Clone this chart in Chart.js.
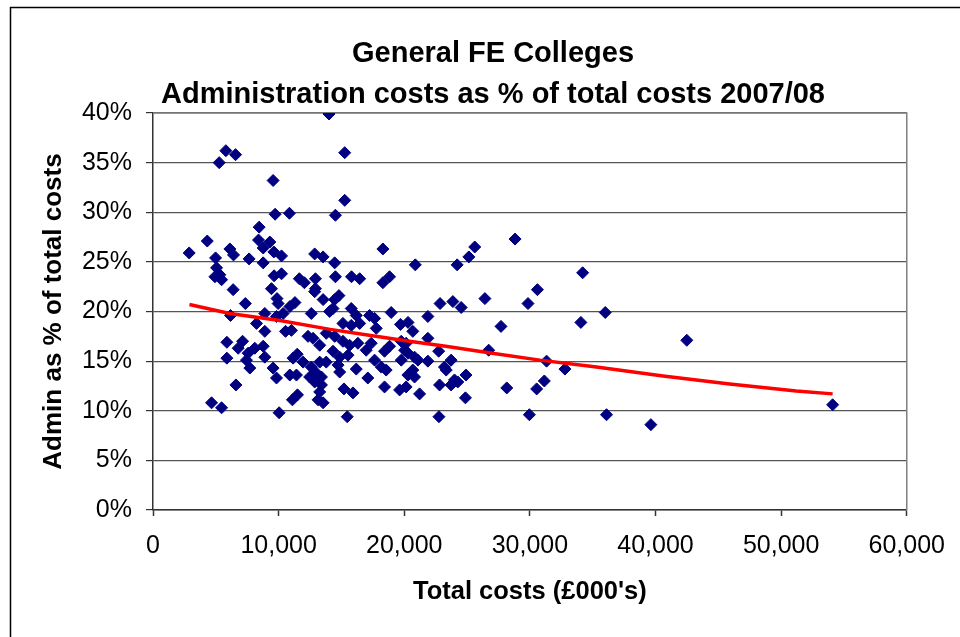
<!DOCTYPE html>
<html>
<head>
<meta charset="utf-8">
<title>General FE Colleges – Administration costs</title>
<script src="https://cdn.jsdelivr.net/npm/chart.js@4/dist/chart.umd.min.js"></script>
<style>
  html, body { margin: 0; padding: 0; background: #fff; }
  #wrap { width: 960px; height: 637px; }
</style>
</head>
<body>
<div id="wrap"><canvas id="chart" width="960" height="637"></canvas></div>
<script>
// Total costs per college (£000's)
const totalCosts = [
  14010, 15260, 5800, 6570, 5270, 9560, 15260, 9720, 10860, 14520,
  8450, 4320, 2880, 4980, 6120, 6410, 7650, 8400, 9300, 8770,
  9620, 10230, 8770, 12870, 13540, 14460, 5060, 5320, 4930, 5460,
  6380, 7350, 9640, 10230, 9430, 9870, 9960, 11650, 12050, 12930,
  12930, 13540, 14520, 14800, 14460, 15800, 16450, 10900, 11300, 18300,
  20880, 24210, 25140, 25610, 28820, 18300, 18830, 26420, 30600, 29850,
  22850, 23870, 24530, 15780, 18960, 21880, 34200, 36000, 34060, 42490,
  31330, 32790, 31150, 30540, 29960, 36100, 39630, 54100, 6170, 8900,
  8240, 9830, 10360, 8900, 10550, 5880, 7130, 6780, 7570, 8100,
  8770, 5880, 7440, 7710, 8900, 9560, 9830, 11150, 10890, 11420,
  6600, 4660, 5460, 10040, 11100, 11500, 12870, 14330, 14060, 12600,
  16180, 17240, 17640, 19700, 20300, 15120, 15780, 16450, 17770, 11020,
  12340, 12740, 13790, 14460, 15120, 13270, 16310, 15650, 14330, 14860,
  15520, 17370, 16970, 18430, 18830, 19760, 11480, 11950, 12600, 13270,
  13790, 12470, 13010, 13410, 12870, 14730, 14860, 16180, 17100, 17640,
  18170, 18560, 19760, 20300, 18430, 19630, 20150, 15200, 15920, 13410,
  13270, 13540, 13140, 15460, 20680, 27700, 21880, 20150, 20030, 20820,
  22740, 26720, 21880, 21090, 20680, 20820, 20290, 23730, 23200, 23340,
  24910, 22810, 24000, 23730, 24260, 21220, 24870, 28160, 22760
];

// Administration costs as % of total costs, same order as totalCosts
const adminShare = [
  39.9, 36.0, 36.2, 35.8, 35.0, 33.2, 31.2, 29.8, 29.9, 29.7,
  28.5, 27.1, 25.9, 25.4, 26.3, 25.7, 25.3, 27.2, 27.0, 26.4,
  26.0, 25.6, 24.9, 25.8, 25.5, 24.9, 24.4, 23.7, 23.5, 23.2,
  22.2, 20.8, 23.6, 23.8, 22.3, 21.3, 20.8, 23.3, 22.9, 23.3,
  22.3, 21.2, 23.5, 21.6, 21.2, 23.5, 23.3, 20.5, 20.9, 26.3,
  24.7, 24.7, 25.5, 26.5, 27.3, 22.9, 23.5, 21.3, 22.2, 20.8,
  20.8, 21.0, 20.4, 20.3, 19.9, 19.5, 23.9, 19.9, 18.9, 17.1,
  15.0, 14.2, 13.0, 12.2, 9.6, 9.6, 8.6, 10.6, 19.6, 19.8,
  18.8, 19.5, 19.8, 18.0, 18.0, 16.9, 17.0, 16.3, 15.8, 16.3,
  16.5, 15.3, 15.1, 14.3, 15.4, 14.3, 13.3, 15.3, 13.6, 13.6,
  12.6, 10.8, 10.3, 9.8, 11.1, 11.6, 22.0, 20.3, 20.0, 19.8,
  19.6, 19.6, 19.3, 18.7, 18.9, 18.8, 18.6, 18.8, 18.3, 18.1,
  17.5, 17.3, 17.8, 17.5, 17.0, 16.6, 16.8, 16.6, 16.0, 15.4,
  15.6, 16.8, 16.1, 16.0, 16.5, 17.0, 15.7, 14.9, 14.4, 14.9,
  14.9, 13.4, 13.8, 13.4, 12.9, 14.6, 13.9, 14.2, 13.3, 15.1,
  14.4, 14.1, 15.1, 15.8, 12.4, 12.1, 12.4, 12.2, 11.8, 12.6,
  11.9, 10.8, 11.1, 9.4, 18.0, 18.5, 17.3, 16.8, 16.1, 15.4,
  16.0, 16.1, 15.0, 15.1, 14.1, 13.4, 13.6, 15.1, 14.4, 14.1,
  13.6, 12.6, 13.1, 12.6, 12.9, 11.7, 11.3, 12.3, 9.4
];

// Trend line through the cloud (£000's, %)
const trendCosts = [2900, 6100, 10100, 14100, 17200, 20400, 23300, 27000, 30800, 35300, 40600, 45900, 51200, 54100];
const trendShare = [20.7, 19.8, 19.1, 18.2, 17.6, 17.0, 16.5, 15.8, 15.1, 14.4, 13.5, 12.7, 12.0, 11.7];

// Axis ranges and steps
const xRange = [0, 60000], xStep = 10000;
const yRange = [0, 40], yStep = 5;

const titleLines = ['General FE Colleges', 'Administration costs as % of total costs 2007/08'];
const xTitle = "Total costs (£000's)";
const yTitle = 'Admin as % of total costs';

const FONT = "'Liberation Sans', Arial, Helvetica, sans-serif";
const withThousands = v => String(v).replace(/\B(?=(\d{3})+(?!\d))/g, ',');

// White page, outer chart frame and the plot-area box edges
const framePlugin = {
  id: 'frame',
  beforeDraw(chart) {
    const ctx = chart.ctx;
    ctx.save();
    ctx.fillStyle = '#ffffff';
    ctx.fillRect(0, 0, chart.width, chart.height);
    ctx.strokeStyle = '#000000';
    ctx.lineWidth = 1.5;
    ctx.strokeRect(10.5, 7.5, chart.width + 40, chart.height + 40);
    ctx.restore();
  },
  beforeDatasetsDraw(chart) {
    const { ctx, chartArea: a } = chart;
    ctx.save();
    ctx.strokeStyle = '#808080';
    ctx.lineWidth = 1.5;
    ctx.beginPath();
    ctx.moveTo(a.left, a.top);
    ctx.lineTo(a.right, a.top);
    ctx.lineTo(a.right, a.bottom);
    ctx.stroke();
    ctx.restore();
  }
};

new Chart(document.getElementById('chart'), {
  type: 'scatter',
  data: {
    datasets: [
      {
        type: 'line',
        label: 'Trend',
        data: trendCosts.map((x, i) => ({ x, y: trendShare[i] })),
        borderColor: '#ff0000',
        borderWidth: 3.5,
        pointRadius: 0,
        tension: 0,
        fill: false,
        xAxisID: 'x',
        yAxisID: 'y',
        order: 0
      },
      {
        label: 'Colleges',
        data: totalCosts.map((x, i) => ({ x, y: adminShare[i] })),
        pointStyle: 'rectRot',
        pointRadius: 6,
        backgroundColor: '#000080',
        borderColor: '#000080',
        borderWidth: 1,
        xAxisID: 'x',
        yAxisID: 'y',
        order: 1
      }
    ]
  },
  options: {
    responsive: false,
    animation: false,
    events: [],
    layout: { padding: { left: 38, right: 12, top: 0, bottom: 0 } },
    plugins: {
      legend: { display: false },
      tooltip: { enabled: false },
      title: {
        display: true,
        text: titleLines,
        color: '#000000',
        font: { family: FONT, size: 29, weight: 'bold', lineHeight: 41 / 29 },
        padding: { top: 33, bottom: -2 }
      }
    },
    scales: {
      x: {
        type: 'linear',
        position: 'bottom',
        min: xRange[0],
        max: xRange[1],
        ticks: {
          stepSize: xStep,
          color: '#000000',
          font: { family: FONT, size: 25 },
          padding: 15,
          maxRotation: 0,
          callback: v => withThousands(v)
        },
        grid: { drawOnChartArea: false, tickLength: 6, tickColor: '#333333', tickWidth: 1.5 },
        border: { color: '#333333', width: 1.5 },
        title: {
          display: true,
          text: xTitle,
          color: '#000000',
          font: { family: FONT, size: 25.5, weight: 'bold', lineHeight: 1.2 },
          padding: { top: 0, bottom: 30 }
        },
        afterFit(scale) { scale.height = 127; }
      },
      y: {
        type: 'linear',
        position: 'left',
        min: yRange[0],
        max: yRange[1],
        ticks: {
          stepSize: yStep,
          color: '#000000',
          font: { family: FONT, size: 25 },
          padding: 14,
          callback: v => v + '%'
        },
        grid: { color: '#555555', lineWidth: 1.2, tickLength: 7, tickColor: '#333333' },
        border: { color: '#333333', width: 1.5 },
        title: {
          display: true,
          text: yTitle,
          color: '#000000',
          font: { family: FONT, size: 26, weight: 'bold', lineHeight: 1.2 },
          padding: { top: 0, bottom: 0 }
        },
        afterFit(scale) { scale.width = 115; }
      },
      yRightGap: {
        type: 'linear',
        position: 'right',
        display: true,
        ticks: { display: false },
        grid: { display: false },
        border: { display: false },
        afterFit(scale) { scale.width = 40; }
      }
    }
  },
  plugins: [framePlugin]
});
</script>
</body>
</html>
